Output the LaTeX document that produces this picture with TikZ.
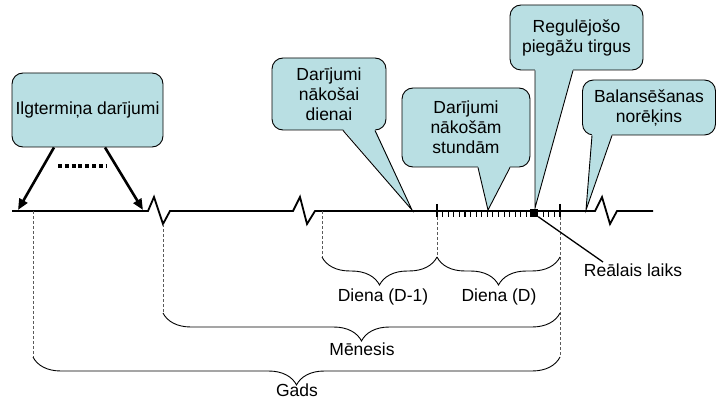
\documentclass[tikz,border=0pt]{standalone}
\usepackage{fontspec}
\setmainfont{Liberation Sans}
\usetikzlibrary{arrows.meta,calc,decorations.pathreplacing}
\definecolor{cfill}{RGB}{185,223,227}
\definecolor{dashgray}{RGB}{90,90,90}
\tikzset{
  lbl/.style={font=\fontsize{17.5}{20}\selectfont, inner sep=0pt},
  cbox/.style={draw=black, line width=0.9pt, fill=cfill, rounded corners=11pt,
    align=center, inner sep=0pt, font=\fontsize{17.5}{20}\selectfont},
  cside/.style={draw=black, line width=0.9pt, line join=miter},
  timeline/.style={line width=1.8pt, line join=miter},
  guide/.style={draw=dashgray, line width=0.9pt, dash pattern=on 3pt off 2pt},
  bigarrow/.style={line width=2.6pt, -{Triangle[length=11pt,width=9pt]}},
  bracepath/.style={line width=0.9pt, decorate,
    decoration={brace, amplitude=28pt, aspect=0.5}},
}
\begin{document}
\begin{tikzpicture}[x=1pt,y=-1pt]
\useasboundingbox (0,0) rectangle (717,398);

% ---- time axis with breaks ----
\coordinate (t0) at (12,211);
\coordinate (tend) at (653,211);
\draw[timeline] (t0) -- (148,211) -- (154,197) -- (163,224) -- (170,211)
  -- (293,211) -- (300,197) -- (307,224) -- (315,211)
  -- (595,211) -- (602,197) -- (610,224) -- (617,211) -- (tend);

% day markers and hourly ticks
\coordinate (dA) at (437,211);
\coordinate (dB) at (560,211);
\draw[line width=1.4pt] ([yshift=7pt]dA) -- ([yshift=-6pt]dA);
\draw[line width=1.4pt] ([yshift=7pt]dB) -- ([yshift=-6pt]dB);
\foreach \i in {1,...,21}
  \draw[line width=1.1pt] ($(dA)+(\i*123/22,0)$) -- ++(0,6);
% real-time marker
\node[fill=black, minimum width=8pt, minimum height=8pt, inner sep=0pt] (rt) at (534,212.5) {};

% ---- guide lines ----
\coordinate (gY) at (33,211);
\coordinate (gM) at (163,224);
\coordinate (gD) at (322,211);
\coordinate (gYb) at (33,357);
\coordinate (gMb) at (163,313);
\coordinate (gDb) at (322,257);
\coordinate (dAb) at (437,257);
\coordinate (dBb) at (560,257);
\coordinate (mBb) at (560,313);
\coordinate (yBb) at (560,357);
\draw[guide] (gY) -- (gYb);
\draw[guide] (gM) -- (gMb);
\draw[guide] (gD) -- (gDb);
\draw[guide] ([yshift=-6pt]dA) -- (dAb);
\draw[guide] ([yshift=-6pt]dB) -- (yBb);

% ---- braces ----
\draw[bracepath] (dAb) -- (gDb);
\draw[bracepath] (dBb) -- (dAb);
\draw[bracepath] (mBb) -- (gMb);
\draw[bracepath] (yBb) -- (gYb);
\node[lbl] (lD1) at (383,297) {Diena (D-1)};
\node[lbl] (lD) at (499,297) {Diena (D)};
\node[lbl] (lM) at (362,349) {Mēnesis};
\node[lbl] (lY) at (297,390) {Gads};

% ---- real-time label ----
\node[lbl] (lRT) at (633,270) {Reālais laiks};
\coordinate (rtEnd) at (603,262);
\draw[line width=1.3pt] (rt.south east) -- (rtEnd);

% ---- long-term contracts box ----
\node[cbox, minimum width=151pt, minimum height=74pt] (b1) at (87.5,110) {Ilgtermiņa darījumi};
\coordinate (a1) at (18,210);
\coordinate (a2) at (143,210);
\draw[bigarrow] ([xshift=-33.5pt]b1.south) -- (a1);
\draw[bigarrow] ([xshift=17.5pt]b1.south) -- (a2);
\coordinate (dotsL) at (58,166);
\coordinate (dotsR) at (106,166);
\draw[line width=3.6pt, dash pattern=on 4pt off 2.8pt] (dotsL) -- (dotsR);

% ---- callouts ----
% day-ahead
\node[cbox, minimum width=114pt, minimum height=72pt] (b2) at (329,94)
  {Darījumi\\nākošai\\dienai};
\coordinate (p2) at (412,210);
\fill[cfill] ($(b2.south)+(14,-1.5)$) -- (p2) -- ($(b2.south)+(46,-1.5)$) -- cycle;
\draw[cside] ($(b2.south)+(14,0)$) -- (p2) -- ($(b2.south)+(46,0)$);

% intraday
\node[cbox, minimum width=128pt, minimum height=79pt] (b3) at (466,127.5)
  {Darījumi\\nākošām\\stundām};
\coordinate (p3) at (488,210);
\fill[cfill] ($(b3.south)+(12,-1.5)$) -- (p3) -- ($(b3.south)+(44,-1.5)$) -- cycle;
\draw[cside] ($(b3.south)+(12,0)$) -- (p3) -- ($(b3.south)+(44,0)$);

% balancing market
\node[cbox, minimum width=133pt, minimum height=65pt] (b4) at (576.5,37.5)
  {Regulējošo\\piegāžu tirgus};
\coordinate (p4) at (535,208);
\fill[cfill] ($(b4.south)+(-41.5,-1.5)$) -- (p4) -- ($(b4.south)+(-3.5,-1.5)$) -- cycle;
\draw[cside] ($(b4.south)+(-41.5,0)$) -- (p4) -- ($(b4.south)+(-3.5,0)$);

% imbalance settlement
\node[cbox, minimum width=133pt, minimum height=55pt] (b5) at (649,107.5)
  {Balansēšanas\\norēķins};
\coordinate (p5) at (586,210);
\fill[cfill] ($(b5.south)+(-57,-1.5)$) -- (p5) -- ($(b5.south)+(-37,-1.5)$) -- cycle;
\draw[cside] ($(b5.south)+(-57,0)$) -- (p5) -- ($(b5.south)+(-37,0)$);
\end{tikzpicture}
\end{document}
